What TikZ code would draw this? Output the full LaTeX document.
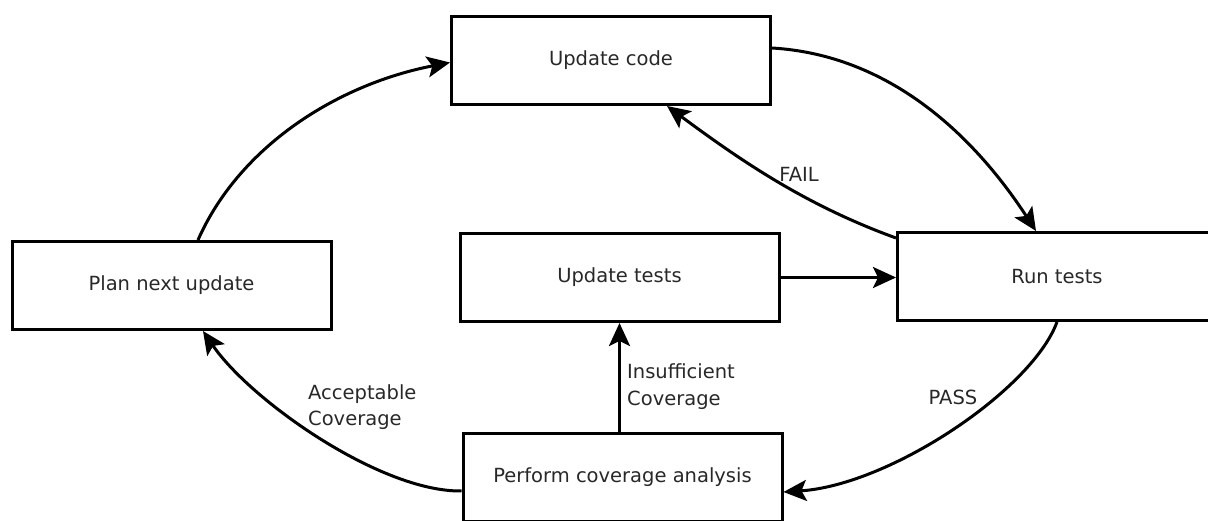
\documentclass[tikz,border=0pt]{standalone}
\usepackage{fontspec}
\setmainfont{DejaVu Sans}
\usetikzlibrary{arrows.meta}
\definecolor{txt}{RGB}{40,40,40}
\begin{document}
\begin{tikzpicture}[x=1pt,y=-1pt,
  box/.style={draw=black, line width=3pt, fill=white, minimum width=319pt, minimum height=88pt, inner sep=0pt, text=txt, font=\fontsize{19.5}{23}\selectfont},
  conn/.style={line width=3pt, -{Stealth[length=23pt,width=21pt,inset=5pt]}},
  lbl/.style={text=txt, font=\fontsize{19.5}{26.5}\selectfont, inner sep=0pt, align=left}]
\useasboundingbox (0,0) rectangle (1208,521);

\node[box] (ucode)  at (611,60.5)    {Update code};
\node[box] (utests) at (619.5,277.5) {Update tests};
\node[box] (run)    at (1057,276.5)  {Run tests};
\node[box] (plan)   at (171.5,285.5) {Plan next update};
\node[box] (perf)   at (622.5,477.5) {Perform coverage analysis};

% Plan -> Update code
\draw[conn] ([xshift=26.5pt]plan.north) .. controls (240,145) and (339,84) .. ([yshift=-2pt]ucode.west);
% Update code -> Run tests
\draw[conn] ([yshift=12.5pt]ucode.east) .. controls (890,55) and (974,136) .. ([xshift=-21pt]run.north);
% Run tests -> Update code (FAIL)
\draw[conn] ([yshift=-7pt]run.north west) .. controls (805,205) and (740,160) .. ([xshift=56pt]ucode.south);
% Update tests -> Run tests
\draw[conn] (utests.east) -- (utests.east -| run.west);
% Run tests -> Perform coverage (PASS)
\draw[conn] (run.south) .. controls (1032,390) and (890,485) .. ([yshift=-14.5pt]perf.east);
% Perform coverage -> Update tests
\draw[conn] (perf.north -| utests.south) -- (utests.south);
% Perform coverage -> Plan next update
\draw[conn] ([yshift=-13.5pt]perf.west) .. controls (380,492) and (250,400) .. ([xshift=31.5pt]plan.south);

\node[lbl] (lfail) at (799,174) {FAIL};
\node[lbl] (lpass) at (953,397) {PASS};
\node[lbl, anchor=west] (lins) at (627,386.5) {Insufficient\\Coverage};
\node[lbl, anchor=west] (lacc) at (308,407) {Acceptable\\Coverage};
\end{tikzpicture}
\end{document}
